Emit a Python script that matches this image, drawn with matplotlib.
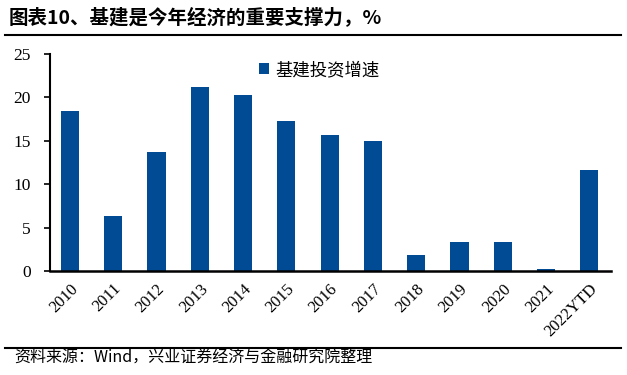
import matplotlib
matplotlib.use("Agg")
import matplotlib.pyplot as plt
from matplotlib.lines import Line2D

categories = ["2010", "2011", "2012", "2013", "2014", "2015", "2016", "2017",
              "2018", "2019", "2020", "2021", "2022YTD"]
values = [18.4, 6.4, 13.7, 21.2, 20.3, 17.3, 15.7, 15.0, 1.8, 3.3, 3.4, 0.2, 11.6]
series_name = "基建投资增速"
title = "图表10、基建是今年经济的重要支撑力，%"
source = "资料来源：Wind，兴业证券经济与金融研究院整理"
yticks = [0, 5, 10, 15, 20, 25]

cjk = ["Noto Sans CJK SC", "DejaVu Sans"]
serif = ["Liberation Serif", "DejaVu Serif"]
color = "#004B93"

fig = plt.figure(figsize=(6.27, 3.75), dpi=100)
ax = fig.add_axes([0.0797, 0.277, 0.8948, 0.579])
x = list(range(len(categories)))
ax.bar(x, values, width=0.42, color=color, label=series_name)
ax.set_xlim(-0.46, 12.5)
ax.set_ylim(0, 25)
ax.set_yticks(yticks)
ax.set_xticks(x)
ax.set_xticklabels(categories, rotation=45, ha="right", rotation_mode="anchor",
                   family=serif, fontsize=12)
for t in ax.get_yticklabels():
    t.set_family(serif)
    t.set_fontsize(12.5)
ax.spines["top"].set_visible(False)
ax.spines["right"].set_visible(False)
ax.spines["left"].set_linewidth(1.5)
ax.spines["bottom"].set_linewidth(1.8)
ax.tick_params(axis="y", direction="out", length=4, width=1.2, pad=10)
ax.tick_params(axis="x", length=0, pad=7)

leg = ax.legend(loc="upper center", bbox_to_anchor=(0.48, 1.04), frameon=False,
                prop={"family": cjk, "size": 12.5}, handlelength=0.6, handleheight=0.6,
                handletextpad=0.35)

fig.text(0.013, 0.953, title, family=cjk, fontsize=14, fontweight="bold", va="center")
fig.add_artist(Line2D([0.008, 0.99], [1 - 35/375, 1 - 35/375], color="black", lw=1.5))
fig.add_artist(Line2D([0.008, 0.99], [1 - 348/375, 1 - 348/375], color="black", lw=1.5))
fig.text(0.022, 1 - 358/375, source, family=cjk, fontsize=11.5, va="center")

fig.savefig("out.png", dpi=100)
